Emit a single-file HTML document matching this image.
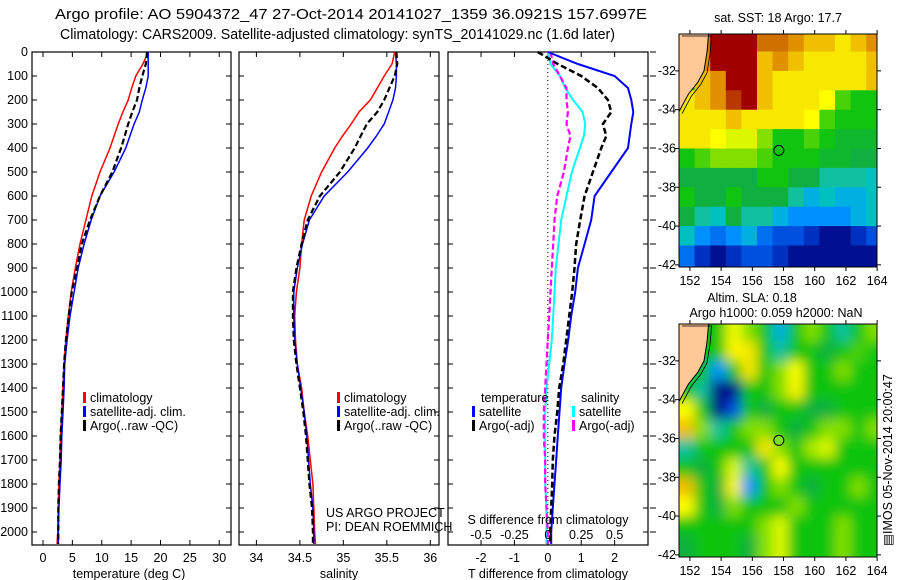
<!DOCTYPE html>
<html><head><meta charset="utf-8">
<style>
html,body{margin:0;padding:0;background:#fff;}
svg{display:block;font-family:"Liberation Sans",sans-serif;}
</style></head>
<body>
<svg id="chart" width="900" height="580" viewBox="0 0 900 580" xmlns="http://www.w3.org/2000/svg">
<defs>
<clipPath id="clipMap1"><rect x="679" y="34" width="198" height="233"/></clipPath>
<clipPath id="clipMap2"><rect x="679" y="324" width="198" height="233"/></clipPath>
<filter id="blurSla" x="-10%" y="-10%" width="120%" height="120%"><feGaussianBlur stdDeviation="6"/></filter>
</defs>
<text x="55" y="19" font-size="15" textLength="592" lengthAdjust="spacingAndGlyphs">Argo profile: AO 5904372_47 27-Oct-2014 20141027_1359 36.0921S 157.6997E</text>
<text x="60" y="39" font-size="15" textLength="555" lengthAdjust="spacingAndGlyphs">Climatology: CARS2009. Satellite-adjusted climatology: synTS_20141029.nc (1.6d later)</text>
<g id="g"></g>
</svg>
<script>
// ---------------- data ----------------
const depths = [0,50,100,150,200,250,300,350,400,500,600,700,800,900,1000,1100,1200,1300,1400,1500,1600,1700,1800,1900,2000,2050];
const tempClim = [17.9,17.0,15.8,15.1,14.5,13.6,12.8,12.1,11.4,9.7,8.3,7.3,6.3,5.5,4.8,4.3,3.9,3.6,3.4,3.2,3.0,2.9,2.7,2.6,2.5,2.4];
const tempSat  = [17.9,17.9,17.9,17.5,16.9,16.4,15.5,14.8,14.1,12.1,9.7,8.2,7.0,6.0,5.3,4.6,4.1,3.7,3.6,3.4,3.2,3.1,2.9,2.7,2.6,2.6];
const tempArgo = [17.7,17.5,16.9,16.4,16.0,15.2,14.5,13.9,13.3,11.8,9.7,8.0,6.6,5.8,4.9,4.4,3.9,3.6,3.4,3.2,3.0,2.9,2.7,2.6,2.6,2.6];
const salClim = [35.59,35.56,35.47,35.39,35.31,35.18,35.09,34.99,34.90,34.75,34.63,34.55,34.52,34.50,34.46,34.44,34.45,34.47,34.52,34.55,34.59,34.62,34.65,34.66,34.67,34.68];
const salSat  = [35.60,35.61,35.61,35.60,35.57,35.52,35.47,35.38,35.28,35.05,34.78,34.61,34.53,34.47,34.43,34.43,34.44,34.47,34.51,34.55,34.58,34.60,34.62,34.65,34.66,34.66];
const salArgo = [35.61,35.62,35.59,35.53,35.47,35.39,35.27,35.20,35.13,34.96,34.73,34.59,34.52,34.46,34.42,34.42,34.43,34.46,34.50,34.54,34.57,34.59,34.61,34.64,34.65,34.65];
const dTSat  = [0.0,0.9,2.0,2.4,2.5,2.56,2.5,2.45,2.4,1.9,1.4,1.3,1.1,0.9,0.82,0.7,0.61,0.5,0.4,0.35,0.3,0.25,0.2,0.15,0.1,0.1];
const dTArgo = [-0.3,0.3,1.0,1.5,1.8,1.9,1.65,1.75,1.6,1.35,1.1,0.97,0.85,0.8,0.73,0.64,0.55,0.46,0.34,0.28,0.2,0.15,0.13,0.1,0.07,0.07];
const dSSat  = [0.0,0.02,0.09,0.13,0.19,0.26,0.28,0.27,0.24,0.18,0.14,0.10,0.08,0.06,0.05,0.04,0.03,0.01,-0.01,-0.02,-0.02,-0.02,-0.02,-0.01,-0.01,-0.01];
const dSArgo = [0.02,0.04,0.09,0.14,0.14,0.15,0.14,0.17,0.15,0.12,0.07,0.05,0.04,0.03,0.02,0.01,0.0,-0.01,-0.02,-0.03,-0.03,-0.02,-0.02,-0.01,0.0,0.0];
const depthTicks = [0,100,200,300,400,500,600,700,800,900,1000,1100,1200,1300,1400,1500,1600,1700,1800,1900,2000];
const tempTicks = [0,5,10,15,20,25,30];
const salTicks = [34,34.5,35,35.5,36];
const dTTicks = [-2,-1,0,1,2];
const dSTicks = [-0.5,-0.25,0,0.25,0.5];
const lonTicks = [152,154,156,158,160,162,164];
const latTicks = [-32,-34,-36,-38,-40,-42];
// map grids: rows lat -30..-42 by 1 deg, cols from lon 151.3 by 1 deg; -1 = land
const sstGrid = [
[-1,0.9,1.0,1.0,1.0,0.9,0.9,0.85,0.8,0.8,0.75,0.8,0.85],
[-1,0.85,1.0,1.0,1.0,0.8,0.85,0.8,0.75,0.75,0.75,0.75,0.8],
[-1,0.8,0.85,1.0,1.0,0.8,0.75,0.75,0.75,0.75,0.75,0.75,0.8],
[0.75,0.8,0.85,0.95,1.0,0.8,0.75,0.75,0.75,0.7,0.55,0.5,0.5],
[0.75,0.75,0.75,0.8,0.75,0.75,0.75,0.75,0.7,0.55,0.5,0.5,0.5],
[0.75,0.75,0.7,0.65,0.65,0.6,0.5,0.5,0.55,0.5,0.47,0.47,0.47],
[0.5,0.55,0.6,0.6,0.6,0.55,0.5,0.5,0.5,0.47,0.47,0.45,0.45],
[0.45,0.45,0.45,0.45,0.45,0.5,0.5,0.45,0.45,0.4,0.4,0.4,0.38],
[0.5,0.45,0.45,0.5,0.45,0.45,0.45,0.4,0.35,0.38,0.35,0.35,0.38],
[0.45,0.4,0.38,0.45,0.4,0.4,0.35,0.3,0.3,0.3,0.3,0.35,0.38],
[0.38,0.3,0.25,0.3,0.35,0.25,0.2,0.2,0.15,0.1,0.1,0.15,0.2],
[0.25,0.15,0.1,0.15,0.2,0.2,0.15,0.1,0.1,0.1,0.1,0.1,0.1]];
const slaGrid = [
[0.5,0.5,0.5,0.68,0.6,0.5,0.35,0.5,0.6,0.5,0.4,0.5,0.6],
[0.5,0.5,0.5,0.72,0.75,0.5,0.4,0.5,0.5,0.45,0.5,0.55,0.5],
[0.5,0.5,0.3,0.5,0.75,0.5,0.6,0.7,0.5,0.5,0.6,0.5,0.5],
[0.5,0.4,0.05,0.1,0.5,0.5,0.6,0.72,0.5,0.5,0.5,0.5,0.5],
[0.7,0.5,0.05,0.2,0.5,0.45,0.5,0.5,0.45,0.45,0.5,0.5,0.5],
[0.8,0.6,0.4,0.5,0.6,0.6,0.5,0.45,0.5,0.6,0.6,0.5,0.6],
[0.4,0.5,0.5,0.5,0.5,0.75,0.6,0.5,0.62,0.65,0.5,0.5,0.5],
[0.5,0.45,0.5,0.65,0.4,0.5,0.7,0.5,0.5,0.5,0.5,0.5,0.5],
[0.8,0.5,0.45,0.72,0.3,0.5,0.6,0.5,0.45,0.5,0.5,0.6,0.5],
[0.7,0.5,0.45,0.6,0.5,0.5,0.5,0.6,0.5,0.5,0.5,0.5,0.5],
[0.5,0.5,0.5,0.5,0.5,0.6,0.65,0.5,0.5,0.5,0.6,0.5,0.5],
[0.45,0.5,0.5,0.5,0.45,0.6,0.65,0.5,0.5,0.5,0.6,0.5,0.5]];
const coastLon = [151.3,153.2,153.1,152.9,152.5,151.9,151.5,151.3];
const coastLat = [-30.1,-30.1,-31,-32,-32.6,-33.2,-33.8,-34.1];
const argoLon = 157.7, argoLat = -36.1;

// ---------------- helpers ----------------
const NS="http://www.w3.org/2000/svg";
const G=document.getElementById('g');
function mk(tag,attrs,parent){const e=document.createElementNS(NS,tag);for(const k in attrs)e.setAttribute(k,attrs[k]);(parent||G).appendChild(e);return e;}
function txt(x,y,s,size,anchor,parent){const e=mk('text',{x:x,y:y,'font-size':size||12,'text-anchor':anchor||'start'},parent);e.textContent=s;return e;}
const cmapStops=[[0,[0,0,120]],[0.1,[0,16,144]],[0.15,[0,48,192]],[0.2,[0,80,224]],[0.3,[0,144,255]],[0.35,[0,176,224]],[0.38,[0,192,192]],[0.4,[16,192,160]],[0.45,[16,176,64]],[0.5,[16,196,16]],[0.6,[130,224,0]],[0.65,[220,248,0]],[0.7,[255,255,0]],[0.75,[248,232,0]],[0.8,[240,192,0]],[0.85,[224,144,0]],[0.9,[208,112,0]],[1.0,[160,0,0]]];
function jet(v){
  for(let i=1;i<cmapStops.length;i++){
    if(v<=cmapStops[i][0]){const a=cmapStops[i-1],b=cmapStops[i];const f=(v-a[0])/(b[0]-a[0]);
      return 'rgb('+a[1].map((c,k)=>Math.round(c+(b[1][k]-c)*f)).join(',')+')';}
  }
  return 'rgb(160,0,0)';
}
const yD = d => 52 + d*0.24;
const PT={x0:32,x1:231,v0:-1.87,v1:32.0};
const PS={x0:239,x1:439,v0:33.8,v1:36.1};
const PD={x0:448,x1:648,v0:-2.99,v1:3.0};
const xOf=(p,v)=>p.x0+(v-p.v0)/(p.v1-p.v0)*(p.x1-p.x0);
const xS=v=>xOf(PD,v*4);

function panel(p,name){
  const r=mk('rect',{x:p.x0,y:52,width:p.x1-p.x0,height:493,fill:'none',stroke:'#000','stroke-width':1.2});
  
  
  depthTicks.forEach(d=>{
    mk('line',{x1:p.x0,x2:p.x0+5,y1:yD(d),y2:yD(d),stroke:'#000'});
    mk('line',{x1:p.x1,x2:p.x1-5,y1:yD(d),y2:yD(d),stroke:'#000'});
  });
}
function xticks(p,ticks,fmt,name){
  const g=mk('g',{});
  
  
  ticks.forEach(t=>{const x=xOf(p,t);
    mk('line',{x1:x,x2:x,y1:545,y2:540,stroke:'#000'},g);
    mk('line',{x1:x,x2:x,y1:52,y2:57,stroke:'#000'},g);
    txt(x,562,fmt(t),12.5,'middle',g);});
}
function series(p,vals,xf,color,w,dash,name){
  const pts=vals.map((v,i)=>xf(v).toFixed(1)+','+yD(depths[i]).toFixed(1)).join(' ');
  const a={points:pts,fill:'none',stroke:color,'stroke-width':w};
  if(dash)a['stroke-dasharray']=dash;
  const e=mk('polyline',a);
  
  
}
function legendEntry(x,y,color,label,name){
  const g=mk('g',{});
  
  
  mk('rect',{x:x,y:y-10,width:3,height:11,fill:color},g);
  txt(x+7,y,label,12.5,'start',g);
}

// ---------------- panel 1: temperature ----------------
panel(PT,'temperature-panel');
const yl=mk('g',{});


depthTicks.forEach(d=>txt(28,yD(d)+4,String(d),12.5,'end',yl));
xticks(PT,tempTicks,t=>String(t),'temperature-x-axis');
const t1=txt(129,578,'temperature (deg C)',12.5,'middle');

const fT=v=>xOf(PT,v);
series(PT,tempClim,fT,'#ff0000',1.5,null,'temp-climatology-line');
series(PT,tempSat,fT,'#0000ff',1.5,null,'temp-satellite-line');
series(PT,tempArgo,fT,'#000',2.2,'6,3','temp-argo-line');
legendEntry(83,402,'#ff0000','climatology','legend-climatology');
legendEntry(83,416,'#0000ff','satellite-adj. clim.','legend-satellite-adj');
legendEntry(83,430,'#000','Argo(..raw -QC)','legend-argo');

// ---------------- panel 2: salinity ----------------
panel(PS,'salinity-panel');
xticks(PS,salTicks,t=>String(t),'salinity-x-axis');
const t2=txt(339,578,'salinity',12.5,'middle');

const fS=v=>xOf(PS,v);
series(PS,salClim,fS,'#ff0000',1.5,null,'sal-climatology-line');
series(PS,salSat,fS,'#0000ff',1.5,null,'sal-satellite-line');
series(PS,salArgo,fS,'#000',2.2,'6,3','sal-argo-line');
legendEntry(337,402,'#ff0000','climatology','legend-climatology-2');
legendEntry(337,416,'#0000ff','satellite-adj. clim.','legend-satellite-adj-2');
legendEntry(337,430,'#000','Argo(..raw -QC)','legend-argo-2');
const c1=txt(326,517,'US ARGO PROJECT',12.5);

const c2=txt(326,531,'PI: DEAN ROEMMICH',12.5);


// ---------------- panel 3: differences ----------------
panel(PD,'difference-panel');
depthTicks.forEach(d=>mk('line',{x1:650,x2:656,y1:yD(d),y2:yD(d),stroke:'#000'}));
xticks(PD,dTTicks,t=>String(t),'t-difference-x-axis');
mk('line',{x1:xOf(PD,0),x2:xOf(PD,0),y1:52,y2:545,stroke:'#000','stroke-dasharray':'1,3'});
series(PD,dSSat,xS,'#00ffff',2,null,'sal-diff-satellite-line');
series(PD,dSArgo,xS,'#ff00ff',2.2,'6,3','sal-diff-argo-line');
series(PD,dTSat,v=>xOf(PD,v),'#0000ff',2,null,'temp-diff-satellite-line');
series(PD,dTArgo,v=>xOf(PD,v),'#000',2.5,'6,3','temp-diff-argo-line');
const sl=mk('g',{});


txt(548,524,'S difference from climatology',12.5,'middle',sl);
dSTicks.forEach(t=>txt(xS(t),539,String(t),12.5,'middle',sl));
const t3=txt(548,578,'T difference from climatology',12.5,'middle');

const lt=txt(481,402,'temperature',12.5);
const ls=txt(581,402,'salinity',12.5);
legendEntry(472,416,'#0000ff','satellite','legend-temp-satellite');
legendEntry(472,430,'#000','Argo(-adj)','legend-temp-argo');
legendEntry(572,416,'#00ffff','satellite','legend-sal-satellite');
legendEntry(572,430,'#ff00ff','Argo(-adj)','legend-sal-argo');

// ---------------- maps ----------------
function drawMap(top,grid,clipId,blur,name,ptFill){
  const lonX=l=>679+(l-151.3)*15.6;
  const latY=l=>top+(-30.1-l)*19.4;
  const g=mk('g',{'clip-path':'url(#'+clipId+')'});
  
  
  mk('rect',{x:679,y:top,width:198,height:233,fill:jet(0.5)},g);
  const cells=mk('g',blur?{filter:'url(#blurSla)'}:{},g);
  grid.forEach((row,r)=>row.forEach((v,c)=>{
    if(v<0)return;
    const x=(c===0?lonX(151.3)-20:lonX(151.3+c));
    const w=(c===0?36.1:(c===row.length-1?40:16.1));
    const yTop=(r===0?top-20:latY(-30-r));
    const yBot=(r===grid.length-1?top+253:latY(-31-r));
    const cell=mk('rect',{x:x.toFixed(1),y:yTop.toFixed(1),width:w,height:(yBot-yTop+0.5).toFixed(1),fill:jet(v)},cells);
    
    
  }));
  const pts=coastLon.map((l,i)=>lonX(l).toFixed(1)+','+latY(coastLat[i]).toFixed(1));
  const land=mk('polygon',{points:pts.join(' ')+' '+lonX(151.3)+','+(top-2),fill:'#ffc896',stroke:'#000','stroke-width':1},g);
  
  
  const shelf=coastLon.map((l,i)=>(lonX(l)+3).toFixed(1)+','+(latY(coastLat[i])+2).toFixed(1)).join(' ');
  mk('polyline',{points:shelf,fill:'none',stroke:'#000','stroke-width':0.8},g);
  const pt=mk('circle',{cx:lonX(argoLon),cy:latY(argoLat),r:5,fill:ptFill,stroke:'#000','stroke-width':1},g);
  
  
  mk('rect',{x:679,y:top,width:198,height:233,fill:'none',stroke:'#000'});
  const ax=mk('g',{});
  
  
  lonTicks.forEach(l=>{const x=lonX(l);mk('line',{x1:x,x2:x,y1:top+233,y2:top+237,stroke:'#000'},ax);mk('line',{x1:x,x2:x,y1:top,y2:top-4,stroke:'#000'},ax);txt(x,top+251,String(l),12.5,'middle',ax);});
  latTicks.forEach(l=>{const y=latY(l);mk('line',{x1:679,x2:675,y1:y,y2:y,stroke:'#000'},ax);mk('line',{x1:877,x2:881,y1:y,y2:y,stroke:'#000'},ax);txt(676,y+4,String(l),12.5,'end',ax);});
}
drawMap(34,sstGrid,'clipMap1',false,'sst-map','none');
drawMap(324,slaGrid,'clipMap2',true,'sla-map','#80e020');
const m1=txt(778,22,'sat. SST: 18 Argo: 17.7',12.5,'middle');
const m2=txt(752,302,'Altim. SLA: 0.18',12.5,'middle');
const m3=txt(776,317,'Argo h1000: 0.059 h2000: NaN',12.5,'middle');
const ts=mk('text',{x:0,y:0,'font-size':12.5,'text-anchor':'middle',transform:'translate(892,460) rotate(-90)'});
ts.textContent='\u25A4IMOS 05-Nov-2014 20:00:47';


</script>
</body></html>
